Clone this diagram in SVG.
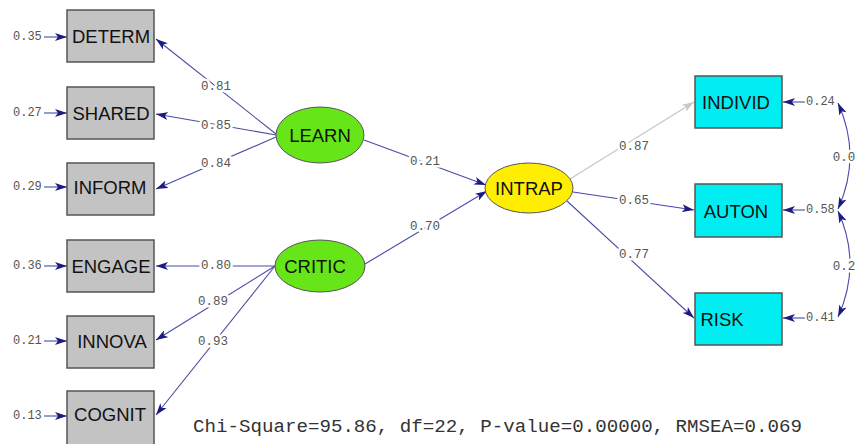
<svg xmlns="http://www.w3.org/2000/svg" width="857" height="444" viewBox="0 0 857 444">
  <style>
    .obs rect { fill: #c3c3c3; stroke: #555; stroke-width: 1.5; }
    .dep rect { fill: #00eef2; stroke: #555; stroke-width: 1.5; }
    .lat ellipse { stroke: #555; stroke-width: 1; }
    .nm { font-family: "Liberation Sans", Arial, sans-serif; font-size: 18.5px; fill: #111; text-anchor: middle; dominant-baseline: central; }
    .num { font-family: "Liberation Mono", "Courier New", monospace; font-size: 12.5px; fill: #555; text-anchor: middle; dominant-baseline: central; stroke: #fff; stroke-width: 5; stroke-linejoin: round; paint-order: stroke; }
    .err { font-family: "Liberation Mono", "Courier New", monospace; font-size: 12px; fill: #555; dominant-baseline: central; }
    .ln { stroke: #4a4aa8; stroke-width: 1.1; fill: none; }
    .lt { stroke: #c8c8c8; stroke-width: 1.3; fill: none; }
    .stat { font-family: "Liberation Mono", "Courier New", monospace; font-size: 18px; fill: #333; }
  </style>
  <defs>
    <marker id="ah" viewBox="0 0 12 8" refX="12" refY="4" markerWidth="12" markerHeight="8" markerUnits="userSpaceOnUse" orient="auto-start-reverse">
      <path d="M0,0 L12,4 L0,8 L3,4 z" fill="#1c1c80"/>
    </marker>
    <marker id="ahg" viewBox="0 0 12 8" refX="12" refY="4" markerWidth="12" markerHeight="8" markerUnits="userSpaceOnUse" orient="auto">
      <path d="M0,0 L12,4 L0,8 L3,4 z" fill="#c8c8c8"/>
    </marker>
  </defs>
  <rect width="857" height="444" fill="#fff"/>

  <!-- paths and error terms -->
  <g id="connectors">
    <line class="ln" x1="276" y1="134" x2="156" y2="39" marker-end="url(#ah)"/>
    <line class="ln" x1="276" y1="135" x2="156" y2="114" marker-end="url(#ah)"/>
    <line class="ln" x1="276" y1="137" x2="156" y2="189" marker-end="url(#ah)"/>
    <line class="ln" x1="275" y1="266" x2="156" y2="266" marker-end="url(#ah)"/>
    <line class="ln" x1="275" y1="266" x2="156" y2="340" marker-end="url(#ah)"/>
    <line class="ln" x1="275" y1="266" x2="156" y2="415" marker-end="url(#ah)"/>
    <line class="ln" x1="364" y1="140" x2="486" y2="185" marker-end="url(#ah)"/>
    <line class="ln" x1="365" y1="264" x2="487" y2="191" marker-end="url(#ah)"/>
    <line class="lt" x1="570" y1="179" x2="694" y2="102" marker-end="url(#ahg)"/>
    <line class="ln" x1="573" y1="192" x2="694" y2="210" marker-end="url(#ah)"/>
    <line class="ln" x1="567" y1="201" x2="694" y2="318" marker-end="url(#ah)"/>

    <line class="ln" x1="44" y1="37" x2="67" y2="37" marker-end="url(#ah)"/>
    <line class="ln" x1="44" y1="113" x2="67" y2="113" marker-end="url(#ah)"/>
    <line class="ln" x1="44" y1="187" x2="67" y2="187" marker-end="url(#ah)"/>
    <line class="ln" x1="44" y1="266" x2="67" y2="266" marker-end="url(#ah)"/>
    <line class="ln" x1="44" y1="341" x2="67" y2="341" marker-end="url(#ah)"/>
    <line class="ln" x1="44" y1="416" x2="67" y2="416" marker-end="url(#ah)"/>

    <line class="ln" x1="805" y1="102" x2="783" y2="102" marker-end="url(#ah)"/>
    <line class="ln" x1="805" y1="210" x2="783" y2="210" marker-end="url(#ah)"/>
    <line class="ln" x1="805" y1="318" x2="783" y2="318" marker-end="url(#ah)"/>

    <path class="ln" d="M838,103 Q862,156 838,209" marker-start="url(#ah)" marker-end="url(#ah)"/>
    <path class="ln" d="M838,211 Q862,264 838,317" marker-start="url(#ah)" marker-end="url(#ah)"/>

    <text class="num" x="216" y="87">0.81</text>
    <text class="num" x="216" y="126">0.85</text>
    <text class="num" x="216" y="164">0.84</text>
    <text class="num" x="216" y="266">0.80</text>
    <text class="num" x="213" y="302">0.89</text>
    <text class="num" x="213" y="342">0.93</text>
    <text class="num" x="425" y="162">0.21</text>
    <text class="num" x="425" y="227">0.70</text>
    <text class="num" x="634" y="147">0.87</text>
    <text class="num" x="634" y="201">0.65</text>
    <text class="num" x="634" y="255">0.77</text>
    <text class="num" x="844" y="158">0.0</text>
    <text class="num" x="844" y="267">0.2</text>

    <text class="err" x="13" y="37">0.35</text>
    <text class="err" x="13" y="113">0.27</text>
    <text class="err" x="13" y="187">0.29</text>
    <text class="err" x="13" y="266">0.36</text>
    <text class="err" x="13" y="341">0.21</text>
    <text class="err" x="13" y="416">0.13</text>
    <text class="err" x="806" y="102">0.24</text>
    <text class="err" x="806" y="210">0.58</text>
    <text class="err" x="806" y="318">0.41</text>
  </g>

  <g id="DETERM" class="obs"><rect x="67" y="10" width="87" height="52"/><text class="nm" x="111" y="36">DETERM</text></g>
  <g id="SHARED" class="obs"><rect x="67" y="87" width="87" height="52"/><text class="nm" x="111" y="113">SHARED</text></g>
  <g id="INFORM" class="obs"><rect x="67" y="163" width="87" height="52"/><text class="nm" x="110" y="187">INFORM</text></g>
  <g id="ENGAGE" class="obs"><rect x="67" y="240" width="87" height="52"/><text class="nm" x="111" y="266">ENGAGE</text></g>
  <g id="INNOVA" class="obs"><rect x="67" y="316" width="87" height="52"/><text class="nm" x="112" y="341">INNOVA</text></g>
  <g id="COGNIT" class="obs"><rect x="67" y="391" width="87" height="56"/><text class="nm" x="110" y="414">COGNIT</text></g>

  <g id="LEARN" class="lat"><ellipse cx="320" cy="135" rx="44" ry="28" fill="#66e619"/><text class="nm" x="320" y="135">LEARN</text></g>
  <g id="CRITIC" class="lat"><ellipse cx="320" cy="266" rx="45" ry="26" fill="#66e619"/><text class="nm" x="315" y="266">CRITIC</text></g>
  <g id="INTRAP" class="lat"><ellipse cx="529" cy="188" rx="44" ry="25" fill="#ffee00"/><text class="nm" x="529" y="188">INTRAP</text></g>

  <g id="INDIVID" class="dep"><rect x="695" y="76" width="87" height="52"/><text class="nm" x="736" y="102">INDIVID</text></g>
  <g id="AUTON" class="dep"><rect x="695" y="184" width="87" height="53"/><text class="nm" x="736" y="211">AUTON</text></g>
  <g id="RISK" class="dep"><rect x="695" y="293" width="87" height="52"/><text class="nm" x="722" y="319">RISK</text></g>

  <text class="stat" x="193" y="432" textLength="609" lengthAdjust="spacingAndGlyphs">Chi-Square=95.86, df=22, P-value=0.00000, RMSEA=0.069</text>
</svg>
